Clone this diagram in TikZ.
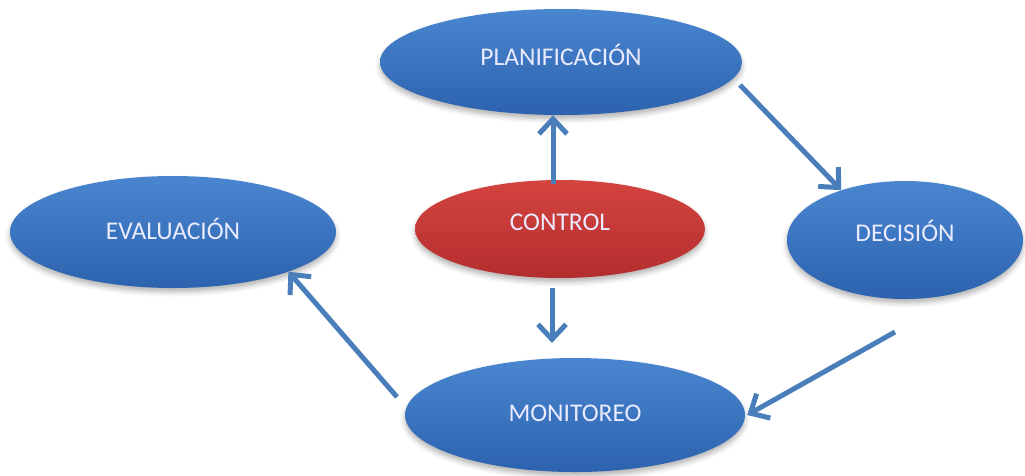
\documentclass[tikz,border=0pt]{standalone}
\usepackage{fontspec}
\setmainfont{Carlito}
\usetikzlibrary{shapes.geometric,arrows.meta,shadows.blur}

\definecolor{blueTop}{HTML}{4A86D0}
\definecolor{blueBot}{HTML}{2C62AE}
\definecolor{redTop}{HTML}{D4443F}
\definecolor{redBot}{HTML}{B42D2E}
\definecolor{arrowBlue}{HTML}{4A7EBB}

\tikzset{
  bubble/.style={ellipse, inner sep=0pt, top color=blueTop, bottom color=blueBot,
    blur shadow={shadow xshift=0pt, shadow yshift=-4pt, shadow blur radius=5pt, shadow opacity=30}},
  redbubble/.style={bubble, top color=redTop, bottom color=redBot},
  caption/.style={text=white!92!blue, font=\fontsize{25.5}{30}\selectfont},
  flow/.style={draw=arrowBlue, line width=5pt,
    -{Straight Barb[length=15pt, width=28pt, line width=5pt]}},
}

\begin{document}
\begin{tikzpicture}[x=1pt, y=-1pt]
  \useasboundingbox (0,0) rectangle (1025,475);

  % process stages
  \node[bubble, minimum width=362pt, minimum height=106pt,
        label={[caption, yshift=7pt]center:PLANIFICACIÓN}] (plan) at (561,62) {};
  \node[bubble, minimum width=326pt, minimum height=112pt,
        label={[caption, yshift=3pt]center:EVALUACIÓN}] (eval) at (173,232) {};
  \node[redbubble, minimum width=290pt, minimum height=98pt,
        label={[caption, yshift=7pt]center:CONTROL}] (ctrl) at (560,229) {};
  \node[bubble, minimum width=236pt, minimum height=118pt,
        label={[caption, yshift=9pt]center:DECISIÓN}] (dec) at (905,240) {};
  \node[bubble, minimum width=340pt, minimum height=114pt,
        label={[caption, yshift=2pt]center:MONITOREO}] (mon) at (575,415) {};

  % free ends of the connectors
  \coordinate (planOut) at (740,85);
  \coordinate (decOut)  at (895,332);
  \coordinate (monOut)  at (397,397);
  \coordinate (ctrlDown) at (552,343);

  % cycle of connectors
  \draw[flow] ([xshift=-7pt,yshift=-4pt]ctrl.north) -- ([xshift=-8pt]plan.south);
  \draw[flow] (planOut) -- (dec.142);
  \draw[flow] (decOut) -- ([xshift=2pt]mon.east);
  \draw[flow] (monOut) -- (eval.-19);
  \draw[flow] ([shift={(-8,10)}]ctrl.south) -- (ctrlDown);
\end{tikzpicture}
\end{document}
